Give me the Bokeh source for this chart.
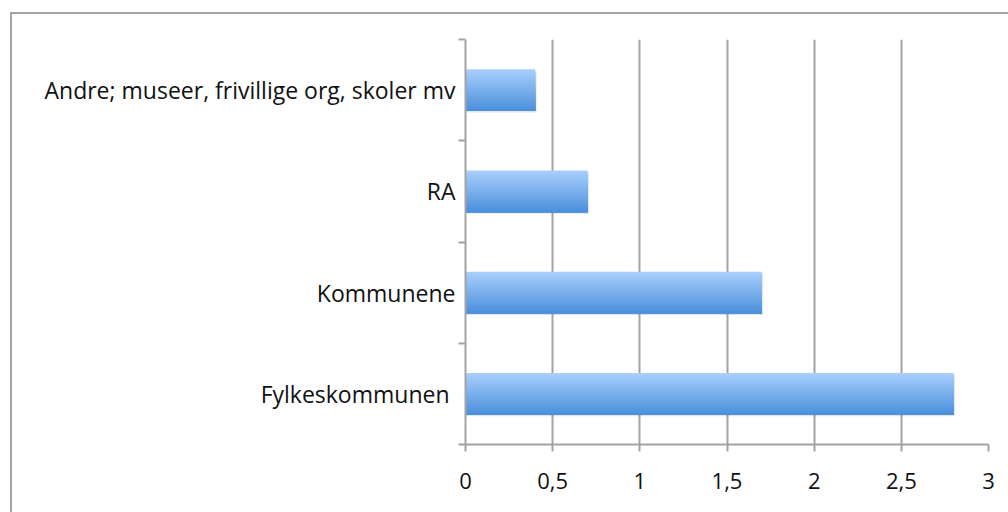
from bokeh.plotting import figure
from bokeh.models import FixedTicker, Range1d
from bokeh.transform import dodge
from bokeh.embed import file_html
from bokeh.resources import INLINE

categories = ["Fylkeskommunen ", "Kommunene", "RA", "Andre; museer, frivillige org, skoler mv"]
values = [2.8, 1.7, 0.7, 0.4]
x_ticks = [0, 0.5, 1, 1.5, 2, 2.5, 3]
x_tick_labels = ["0", "0,5", "1", "1,5", "2", "2,5", "3"]

ypos = [i + 0.5 for i in range(len(categories))]
src = dict(y=ypos, value=values)

GRAY = "#a3a3a3"
FONT = "Open Sans"

W, H = 1008, 512
p = figure(width=W, height=H, output_backend="svg", toolbar_location=None,
           x_range=Range1d(0, 3), y_range=Range1d(0, len(categories)),
           min_border_left=465, min_border_right=W - 988, min_border_top=39, min_border_bottom=H - 444)
p.outline_line_color = None
p.background_fill_color = "white"
p.border_fill_color = None
# outer chart border (left and top edges visible), drawn behind the transparent canvas border
p.styles = {
    "background-color": "white",
    "background-image": f"linear-gradient({GRAY},{GRAY}), linear-gradient({GRAY},{GRAY})",
    "background-size": "2px 100%, 100% 2px",
    "background-position": "10px 12px, 10px 12px",
    "background-repeat": "no-repeat",
}

# grid
p.ygrid.grid_line_color = None
p.xgrid.grid_line_color = GRAY
p.xgrid.grid_line_width = 2
p.xgrid.ticker = FixedTicker(ticks=x_ticks)

# bar shadow
bar_h = 0.41
p.hbar(y=dodge("y", -0.015), left=0, right=dodge("value", 0.008), height=bar_h,
       source=src, fill_color="#000000", fill_alpha=0.10, line_color=None)

# gradient bars (light top -> darker bottom); each slice runs from its top edge
# down to the bar bottom so that no seams show between slices
top_rgb = (0xa9, 0xcf, 0xfd)
bot_rgb = (0x4a, 0x8f, 0xdb)
N = 24
for k in range(N):
    t = (k + 0.5) / N
    c = tuple(int(round(top_rgb[j] + (bot_rgb[j] - top_rgb[j]) * t)) for j in range(3))
    col = "#%02x%02x%02x" % c
    h = bar_h * (N - k) / N
    off = -bar_h / 2 + h / 2
    p.hbar(y=dodge("y", off), left=0, right="value", height=h,
           source=src, fill_color=col, line_color=None)

# x axis
xa = p.xaxis[0]
xa.ticker = FixedTicker(ticks=x_ticks)
xa.major_label_overrides = {(float(t) if t % 1 else int(t)): l for t, l in zip(x_ticks, x_tick_labels)}
xa.axis_line_color = GRAY
xa.axis_line_width = 2
xa.major_tick_line_color = GRAY
xa.major_tick_line_width = 2
xa.major_tick_out = 7
xa.major_tick_in = 0
xa.minor_tick_line_color = None
xa.major_label_standoff = 21
xa.major_label_text_font = FONT
xa.major_label_text_font_size = "22px"
xa.major_label_text_color = "#111111"

# y axis
ya = p.yaxis[0]
ya.ticker = FixedTicker(ticks=ypos, minor_ticks=list(range(len(categories) + 1)))
ya.major_label_overrides = {y: c for y, c in zip(ypos, categories)}
ya.axis_line_color = GRAY
ya.axis_line_width = 2
ya.major_tick_line_color = None
ya.major_tick_out = 0
ya.major_tick_in = 0
ya.minor_tick_line_color = GRAY
ya.minor_tick_line_width = 2
ya.minor_tick_out = 7
ya.minor_tick_in = 0
ya.major_label_standoff = 3
ya.major_label_text_font = FONT
ya.major_label_text_font_size = "23px"
ya.major_label_text_color = "#111111"

open("out.html", "w").write(file_html(p, INLINE))
